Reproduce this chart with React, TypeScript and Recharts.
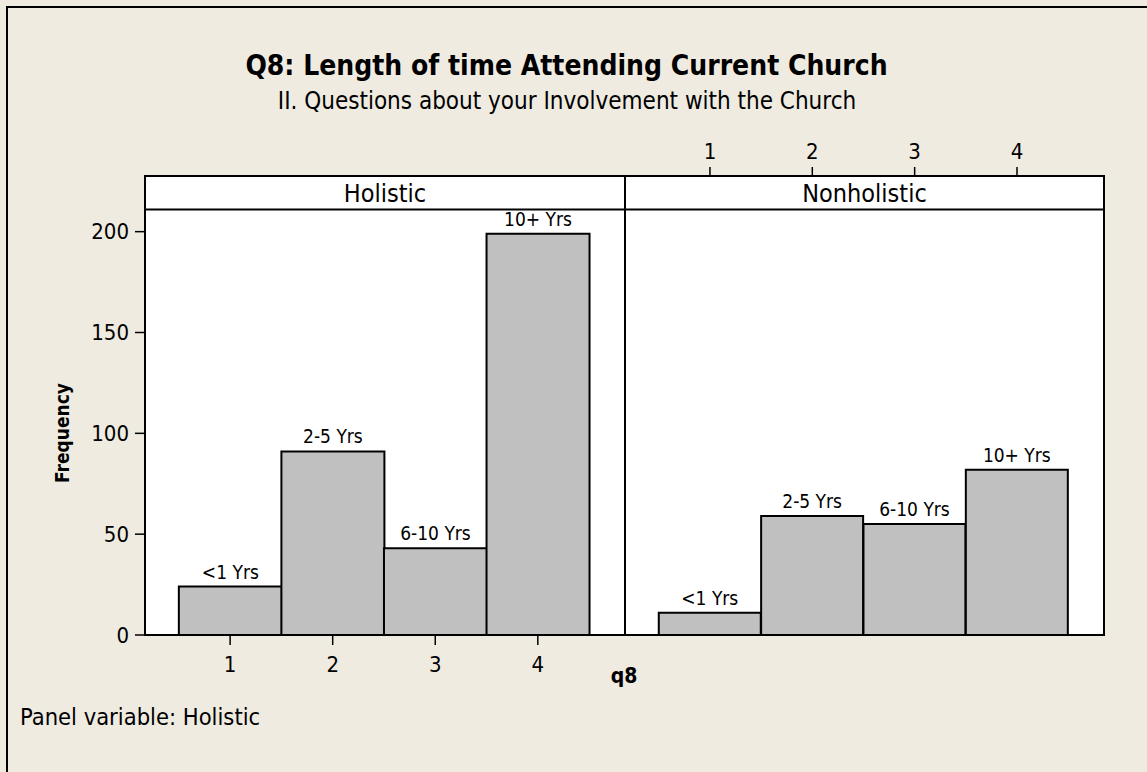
import {
  Bar,
  BarChart,
  CartesianGrid,
  LabelList,
  ReferenceArea,
  XAxis,
  YAxis,
} from "recharts";

const categories = [1, 2, 3, 4];
const yearLabels = ["<1 Yrs", "2-5 Yrs", "6-10 Yrs", "10+ Yrs"];
const holisticCounts = [24, 91, 43, 199];
const nonholisticCounts = [11, 59, 55, 82];
const frequencyTicks = [0, 50, 100, 150, 200];

// y range runs up through the panel strip so the top axis sits above it
const Y_MAX = 227.6;
const STRIP_BOTTOM = 211;
const X_MIN = 0.17;
const X_MAX = 4.85;

const FONT = '"DejaVu Sans Condensed", "DejaVu Sans", sans-serif';
const BG = "#EFEBE1";
const BAR_FILL = "#C0C0C0";

const toRows = (counts: number[]) =>
  categories.map((q8, i) => ({ q8, count: counts[i], label: yearLabels[i] }));

const holisticRows = toRows(holisticCounts);
const nonholisticRows = toRows(nonholisticCounts);

const tickStyle = { fontSize: 22, fill: "#000" };
const tickLine = { stroke: "#000", strokeWidth: 1.5 };

const panelParts = (name: string) => [
  <CartesianGrid key="bg" fill="#fff" horizontal={false} vertical={false} />,
  <ReferenceArea
    key="frame"
    x1={X_MIN}
    x2={X_MAX}
    y1={0}
    y2={Y_MAX}
    fill="none"
    stroke="#000"
    strokeWidth={2}
  />,
  <ReferenceArea
    key="strip"
    x1={X_MIN}
    x2={X_MAX}
    y1={STRIP_BOTTOM}
    y2={Y_MAX}
    fill="#fff"
    fillOpacity={1}
    stroke="#000"
    strokeWidth={2}
    label={{ value: name, position: "center", fontSize: 25, fill: "#000" }}
  />,
  <Bar
    key="bars"
    dataKey="count"
    fill={BAR_FILL}
    stroke="#000"
    strokeWidth={2}
    isAnimationActive={false}
  >
    <LabelList dataKey="label" position="top" offset={8} fontSize={19} fill="#000" />
  </Bar>,
];

const HolisticPanel = () => (
  <BarChart
    width={630}
    height={700}
    data={holisticRows}
    margin={{ top: 176, right: 5, bottom: 35, left: 95 }}
    barCategoryGap={0}
  >
    <XAxis
      dataKey="q8"
      type="number"
      domain={[X_MIN, X_MAX]}
      ticks={categories}
      height={30}
      tickSize={10}
      tickMargin={11}
      tick={tickStyle}
      axisLine={false}
      tickLine={tickLine}
    />
    <YAxis
      type="number"
      domain={[0, Y_MAX]}
      ticks={frequencyTicks}
      width={50}
      tickSize={10}
      tickMargin={6}
      tick={tickStyle}
      axisLine={false}
      tickLine={tickLine}
    />
    {panelParts("Holistic")}
  </BarChart>
);

const NonholisticPanel = () => (
  <BarChart
    width={490}
    height={700}
    data={nonholisticRows}
    margin={{ top: 146, right: 6, bottom: 65, left: 5 }}
    barCategoryGap={0}
  >
    <XAxis
      dataKey="q8"
      type="number"
      orientation="top"
      domain={[X_MIN, X_MAX]}
      ticks={categories}
      height={30}
      tickSize={9}
      tickMargin={8}
      tick={tickStyle}
      axisLine={false}
      tickLine={tickLine}
    />
    <YAxis type="number" domain={[0, Y_MAX]} hide />
    {panelParts("Nonholistic")}
  </BarChart>
);

export default function App() {
  return (
    <div
      style={{
        position: "absolute",
        left: 0,
        top: 0,
        width: 1147,
        height: 772,
        background: BG,
        overflow: "hidden",
        fontFamily: FONT,
        color: "#000",
      }}
    >
      <div
        style={{
          position: "absolute",
          left: 6,
          top: 6,
          width: 1200,
          height: 800,
          borderLeft: "2px solid #000",
          borderTop: "2px solid #000",
        }}
      />
      <div
        style={{
          position: "absolute",
          left: 0,
          width: 1133,
          top: 50,
          textAlign: "center",
          fontSize: 28,
          fontWeight: "bold",
          lineHeight: "32px",
          whiteSpace: "nowrap",
        }}
      >
        Q8: Length of time Attending Current Church
      </div>
      <div
        style={{
          position: "absolute",
          left: 0,
          width: 1134,
          top: 87,
          textAlign: "center",
          fontSize: 24,
          lineHeight: "28px",
          whiteSpace: "nowrap",
        }}
      >
        II. Questions about your Involvement with the Church
      </div>

      <div style={{ position: "absolute", left: 0, top: 0 }}>
        <HolisticPanel />
      </div>
      <div style={{ position: "absolute", left: 620, top: 0 }}>
        <NonholisticPanel />
      </div>

      <div
        style={{
          position: "absolute",
          left: 62 - 80,
          top: 433 - 12,
          width: 160,
          height: 24,
          lineHeight: "24px",
          textAlign: "center",
          fontSize: 19,
          fontWeight: "bold",
          transform: "rotate(-90deg)",
        }}
      >
        Frequency
      </div>
      <div
        style={{
          position: "absolute",
          left: 624 - 40,
          width: 80,
          top: 663,
          lineHeight: "26px",
          textAlign: "center",
          fontSize: 21,
          fontWeight: "bold",
        }}
      >
        q8
      </div>
      <div
        style={{
          position: "absolute",
          left: 20,
          top: 703,
          lineHeight: "28px",
          fontSize: 23.5,
          whiteSpace: "nowrap",
        }}
      >
        Panel variable: Holistic
      </div>
    </div>
  );
}
